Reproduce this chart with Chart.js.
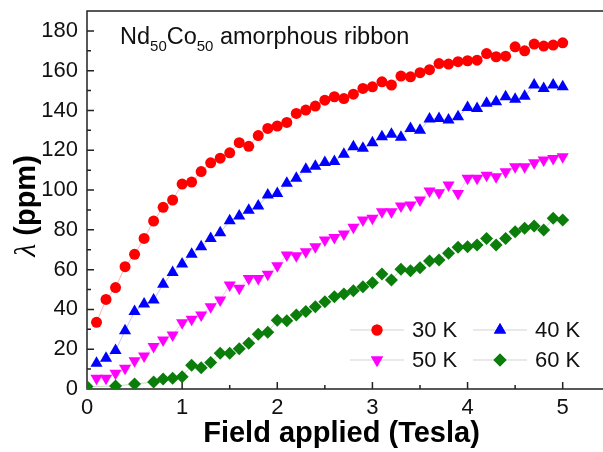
<!DOCTYPE html>
<html>
<head>
<meta charset="utf-8">
<script src="https://cdn.jsdelivr.net/npm/chart.js@4.4.1/dist/chart.umd.min.js"></script>
<style>
html, body { margin: 0; padding: 0; background: #fff; }
#wrap { width: 603px; height: 452px; }
</style>
</head>
<body>
<div id="wrap"><canvas id="chart"></canvas></div>
<script>
// field (Tesla)
var fields = [0, 0.1, 0.2, 0.3, 0.4, 0.5, 0.6, 0.7, 0.8, 0.9, 1.0,
    1.1, 1.2, 1.3, 1.4, 1.5, 1.6, 1.7, 1.8, 1.9, 2.0,
    2.1, 2.2, 2.3, 2.4, 2.5, 2.6, 2.7, 2.8, 2.9, 3.0,
    3.1, 3.2, 3.3, 3.4, 3.5, 3.6, 3.7, 3.8, 3.9, 4.0,
    4.1, 4.2, 4.3, 4.4, 4.5, 4.6, 4.7, 4.8, 4.9, 5.0];

// magnetostriction (ppm)
var k30 = [null, 33.5, 45, 51, 61.5, 67.7, 75.7, 84.4, 91.3, 95, 103,
    104, 109.3, 113.7, 116, 118.7, 123.8, 122, 127.4, 131, 132.2,
    134, 138.5, 140.2, 142.2, 145.2, 146.9, 146, 148.2, 151.1, 151.9,
    154.4, 152.8, 157.3, 156.9, 159, 160.5, 163.6, 163.3, 164.5, 165,
    165.3, 168.6, 167, 167.3, 172, 170, 173.4, 172.4, 172.9, 174];
var k40 = [null, 12.9, 15.4, 19.3, 29.3, 38.9, 42.7, 44.7, 52.6, 58.6, 62.8,
    67.7, 71.5, 75.7, 78.5, 84.6, 86.9, 89.9, 92, 97.5, 98.3,
    103.4, 105.9, 110.5, 112, 113.8, 114.3, 118, 121.8, 121, 123.8,
    126.8, 128.1, 126.5, 131, 130, 135.7, 136, 135.2, 136.8, 141.5,
    141, 143.6, 144.4, 146.9, 145.6, 147.2, 152.8, 151.1, 152.8, 151.9];
var k50 = [null, 5.4, 5.4, 7.9, 10.4, 14.2, 16.6, 21.3, 24.6, 27.1, 33.3,
    35, 37.2, 41.4, 44.7, 52.3, 50.6, 55.6, 55.5, 57.7, 61.9,
    67.3, 67, 69, 71.5, 74.9, 76.2, 77.9, 81.3, 84.9, 85.8,
    89.1, 89.1, 92, 92.5, 95, 99.5, 98.7, 102.5, 98.3, 105.9,
    105.9, 107.5, 106.7, 109.2, 111.7, 111.7, 113.7, 115.1, 115.9, 116.7];
var k60 = [1.2, null, null, 1.5, null, 2.5, null, 3.5, 5, 5.4, 6.2,
    12, 10.7, 13.3, 18, 18, 20.2, 23, 27.5, 28.5, 34.5,
    34.3, 37.2, 38.9, 41.4, 43.9, 46.4, 47.7, 49.4, 51.4, 53.4,
    57.8, 54.8, 60.2, 59.4, 61, 64.4, 64.8, 68.2, 71.2, 71.5,
    72.4, 75.7, 72.4, 75.7, 79, 80.8, 81.9, 79.9, 85.8, 84.9];

var seriesLabels = ['30 K', '40 K', '50 K', '60 K'];
var xTicks = [0, 1, 2, 3, 4, 5];
var xMinorTicks = [0.5, 1.5, 2.5, 3.5, 4.5];
var yTicks = [0, 20, 40, 60, 80, 100, 120, 140, 160, 180];
var yMinorTicks = [10, 30, 50, 70, 90, 110, 130, 150, 170];

function pts(vals) {
    return fields.map((f, i) => ({ x: f, y: vals[i] }));
}

function series(label, vals, color, line, style, r, rot) {
    return {
        label: label,
        data: pts(vals),
        borderColor: line,
        borderWidth: 1,
        backgroundColor: color,
        pointBackgroundColor: color,
        pointBorderColor: color,
        pointBorderWidth: 0,
        pointStyle: style,
        pointRadius: r,
        pointRotation: rot,
        spanGaps: true,
        clip: 0
    };
}

var tickFont = { family: 'Liberation Sans, Arial, sans-serif', size: 22, lineHeight: 1.0 };
var titleFont = { family: 'Liberation Sans, Arial, sans-serif', size: 29, weight: 'bold' };

// axes frame + inward ticks
var frame = {
    id: 'frame',
    beforeDatasetsDraw(chart) {
        const { ctx, chartArea: a, scales: { x, y } } = chart;
        ctx.save();
        ctx.strokeStyle = '#222';
        ctx.lineWidth = 1.5;
        ctx.beginPath();
        ctx.moveTo(chart.width, a.top);
        ctx.lineTo(a.left, a.top);
        ctx.lineTo(a.left, a.bottom);
        ctx.lineTo(chart.width, a.bottom);
        xTicks.forEach(v => {
            const p = x.getPixelForValue(v);
            ctx.moveTo(p, a.bottom); ctx.lineTo(p, a.bottom - 7);
        });
        xMinorTicks.forEach(v => {
            const p = x.getPixelForValue(v);
            ctx.moveTo(p, a.bottom); ctx.lineTo(p, a.bottom - 4);
        });
        yTicks.forEach(v => {
            const p = y.getPixelForValue(v);
            ctx.moveTo(a.left, p); ctx.lineTo(a.left + 7, p);
        });
        yMinorTicks.forEach(v => {
            const p = y.getPixelForValue(v);
            ctx.moveTo(a.left, p); ctx.lineTo(a.left + 4, p);
        });
        ctx.stroke();
        ctx.restore();
    },
    afterDraw(chart) {
        const ctx = chart.ctx;
        const a = chart.chartArea;
        ctx.save();
        // y title: italic lambda + bold unit
        ctx.save();
        ctx.translate(27, (a.top + a.bottom) / 2 + 6);
        ctx.rotate(-Math.PI / 2);
        ctx.fillStyle = '#000';
        ctx.textBaseline = 'middle';
        ctx.textAlign = 'left';
        var lam = 'λ', unit = ' (ppm)';
        ctx.font = 'italic 30px Liberation Serif, serif';
        var w1 = ctx.measureText(lam).width;
        ctx.font = 'bold 29px Liberation Sans, Arial, sans-serif';
        var w2 = ctx.measureText(unit).width;
        var sx = -(w1 + w2) / 2;
        ctx.font = 'italic 30px Liberation Serif, serif';
        ctx.fillText(lam, sx, 0);
        ctx.font = 'bold 29px Liberation Sans, Arial, sans-serif';
        ctx.fillText(unit, sx + w1, 0);
        ctx.restore();

        // sample label with subscripts
        ctx.fillStyle = '#111';
        ctx.textBaseline = 'alphabetic';
        ctx.textAlign = 'left';
        var parts = [['Nd', 23.5, 0], ['50', 15, 7], ['Co', 23.5, 0], ['50', 15, 7], [' amorphous ribbon', 23.5, 0]];
        var tx = 120;
        parts.forEach(p => {
            ctx.font = p[1] + 'px Liberation Sans, Arial, sans-serif';
            ctx.fillText(p[0], tx, 44 + p[2]);
            tx += ctx.measureText(p[0]).width;
        });
        // legend, two columns
        var spots = [[377, 330], [500, 330], [377, 360], [500, 360]];
        chart.data.datasets.forEach((ds, i) => {
            const cx = spots[i][0], cy = spots[i][1];
            ctx.strokeStyle = 'rgba(170,170,170,0.5)';
            ctx.lineWidth = 1;
            ctx.beginPath();
            ctx.moveTo(cx - 27, cy); ctx.lineTo(cx + 27, cy);
            ctx.stroke();
            ctx.fillStyle = ds.pointBackgroundColor;
            Chart.helpers.drawPoint(ctx, {
                pointStyle: ds.pointStyle, radius: ds.pointRadius,
                rotation: ds.pointRotation, borderWidth: 0
            }, cx, cy);
            ctx.fill();
            ctx.fillStyle = '#111';
            ctx.font = '22px Liberation Sans, Arial, sans-serif';
            ctx.textBaseline = 'middle';
            ctx.fillText(ds.label, cx + 35, cy + 1);
        });
        ctx.restore();
    }
};

var config = {
    type: 'line',
    data: {
        datasets: [
            series(seriesLabels[0], k30, '#ff0000', 'rgba(255,0,0,0.3)', 'circle', 5.5, 0),
            series(seriesLabels[1], k40, '#0000ff', 'rgba(0,0,255,0.25)', 'triangle', 7, 0),
            series(seriesLabels[2], k50, '#ff00ff', 'rgba(255,0,255,0.25)', 'triangle', 7, 180),
            series(seriesLabels[3], k60, '#0b7d0b', 'rgba(0,128,0,0.25)', 'rectRot', 6.5, 0)
        ]
    },
    options: {
        responsive: true,
        maintainAspectRatio: false,
        animation: false,
        devicePixelRatio: 1,
        layout: { padding: { top: 11, right: 0, left: 0, bottom: 0 } },
        plugins: { legend: { display: false }, tooltip: { enabled: false } },
        scales: {
            x: {
                type: 'linear',
                min: 0,
                max: 5.35,
                afterBuildTicks: (s) => { s.ticks = xTicks.map(v => ({ value: v })); },
                afterFit: (s) => { s.height = 63; },
                grid: { display: false, drawTicks: false },
                border: { display: false },
                ticks: { font: tickFont, color: '#111', padding: 8 },
                title: { display: true, text: 'Field applied (Tesla)', font: titleFont, color: '#000', padding: { top: 0, bottom: 1 } }
            },
            y: {
                type: 'linear',
                min: 0,
                max: 190,
                afterBuildTicks: (s) => { s.ticks = yTicks.map(v => ({ value: v })); },
                afterFit: (s) => { s.width = 87; s.paddingTop = 0; s.paddingBottom = 0; },
                grid: { display: false, drawTicks: false },
                border: { display: false },
                ticks: { font: tickFont, color: '#111', padding: 9 },
                title: { display: false }
            }
        }
    },
    plugins: [frame]
};

var chart = new Chart(document.getElementById('chart'), config);
</script>
</body>
</html>
